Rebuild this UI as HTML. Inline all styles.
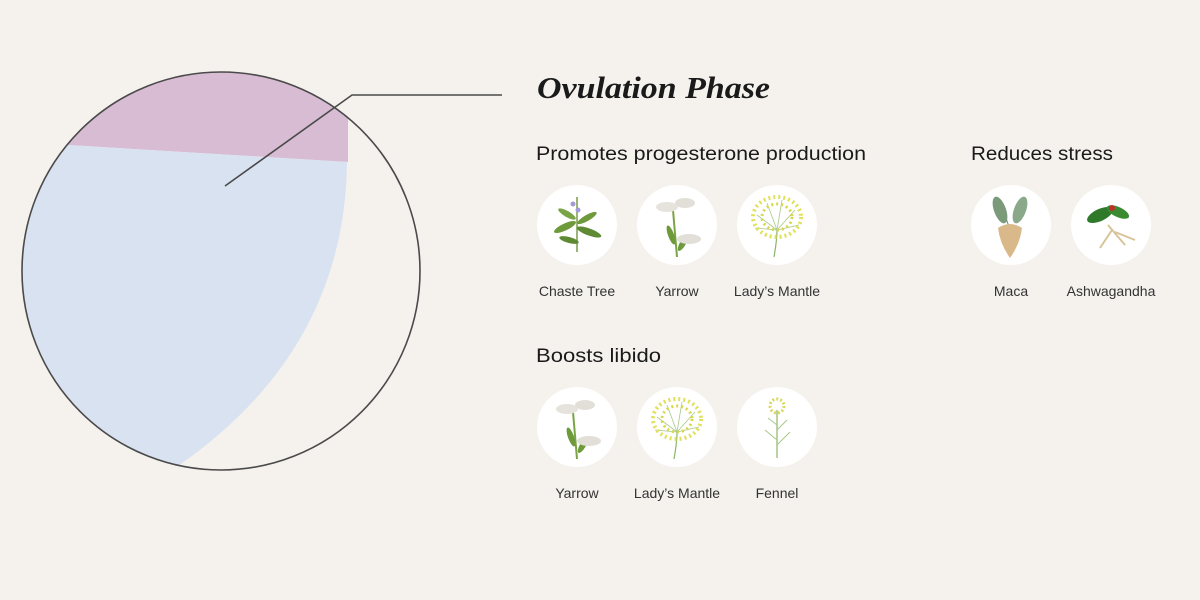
<!DOCTYPE html>
<html><head><meta charset="utf-8"><style>
html,body{margin:0;padding:0;background:#f5f2ee;}
svg{display:block}
text{font-family:"Liberation Sans",sans-serif;fill:#1a1a1a}
.h{font-size:19px;font-weight:500}
.l{font-size:14px;fill:#333}
</style></head><body>
<svg width="1200" height="600" viewBox="0 0 1200 600" xmlns="http://www.w3.org/2000/svg">
<defs>
<clipPath id="c"><circle cx="221" cy="271" r="199"/></clipPath>
<g id="leafy">
<path d="M0,30 L0,-25" stroke="#7a9a4a" stroke-width="1.5"/>
<ellipse cx="-12" cy="5" rx="12" ry="3.5" fill="#6e9a3c" transform="rotate(-25 -12 5)"/>
<ellipse cx="12" cy="10" rx="13" ry="3.5" fill="#5d8a33" transform="rotate(20 12 10)"/>
<ellipse cx="-10" cy="-8" rx="10" ry="3" fill="#7aa546" transform="rotate(30 -10 -8)"/>
<ellipse cx="10" cy="-4" rx="11" ry="3" fill="#6e9a3c" transform="rotate(-30 10 -4)"/>
<ellipse cx="-8" cy="18" rx="10" ry="3" fill="#5d8a33" transform="rotate(15 -8 18)"/>
</g>
<g id="yarrow">
<path d="M0,32 L-4,-15" stroke="#7aa546" stroke-width="2"/>
<ellipse cx="-6" cy="10" rx="3" ry="10" fill="#6e9a3c" transform="rotate(-20 -6 10)"/>
<ellipse cx="6" cy="18" rx="3" ry="9" fill="#6e9a3c" transform="rotate(30 6 18)"/>
<ellipse cx="-10" cy="-18" rx="11" ry="5" fill="#e6e3dc"/>
<ellipse cx="8" cy="-22" rx="10" ry="5" fill="#e2dfd8"/>
<ellipse cx="12" cy="14" rx="12" ry="5" fill="#e2dfd8"/>
</g>
<g id="mantle">
<path d="M-3,32 Q0,15 0,5" stroke="#8ab56a" stroke-width="1.2" fill="none"/>
<path d="M0,5 L-20,-10 M0,5 L-10,-22 M0,5 L5,-25 M0,5 L18,-15 M0,5 L22,0 M0,5 L-22,3" stroke="#a8c98a" stroke-width="0.8"/>
<ellipse cx="0" cy="-8" rx="24" ry="20" fill="none" stroke="#e0e05a" stroke-width="4" stroke-dasharray="2 3"/>
<ellipse cx="0" cy="-8" rx="15" ry="13" fill="none" stroke="#d6d84a" stroke-width="3" stroke-dasharray="2 3"/>
</g>
</defs>
<rect width="1200" height="600" fill="#f5f2ee"/>
<g clip-path="url(#c)">
<circle cx="221" cy="271" r="199" fill="#f5f2ee"/>
<path d="M0,0 L348,0 L348,162 L68,145 L0,144 Z" fill="#d8bcd3"/>
<path d="M0,144 L68,145 L347,162 Q345,350 178,466 L0,600 Z" fill="#d9e2f0"/>
</g>
<circle cx="221" cy="271" r="199" fill="none" stroke="#4a4a4a" stroke-width="1.6"/>
<polyline points="225,186 352,95 502,95" fill="none" stroke="#4a4a4a" stroke-width="1.6"/>
<text x="537" y="98" style="font-family:'Liberation Serif',serif;font-size:31px;font-weight:bold;font-style:italic" textLength="233" lengthAdjust="spacingAndGlyphs">Ovulation Phase</text>
<text class="h" x="536" y="160" textLength="330" lengthAdjust="spacingAndGlyphs">Promotes progesterone production</text>
<text class="h" x="971" y="160" textLength="142" lengthAdjust="spacingAndGlyphs">Reduces stress</text>
<text class="h" x="536" y="362" textLength="125" lengthAdjust="spacingAndGlyphs">Boosts libido</text>
<g fill="#ffffff">
<circle cx="577" cy="225" r="40"/><circle cx="677" cy="225" r="40"/><circle cx="777" cy="225" r="40"/>
<circle cx="1011" cy="225" r="40"/><circle cx="1111" cy="225" r="40"/>
<circle cx="577" cy="427" r="40"/><circle cx="677" cy="427" r="40"/><circle cx="777" cy="427" r="40"/>
</g>
<use href="#leafy" x="577" y="222"/>
<circle cx="573" cy="204" r="2.5" fill="#a59ad8"/><circle cx="578" cy="210" r="2.5" fill="#a59ad8"/>
<use href="#yarrow" x="677" y="225"/>
<use href="#mantle" x="777" y="225"/>
<path d="M1000,200 L1010,230" stroke="#6a8a6a" stroke-width="1"/>
<ellipse cx="1000" cy="210" rx="6" ry="14" fill="#7a9a7a" transform="rotate(-20 1000 210)"/>
<ellipse cx="1020" cy="210" rx="6" ry="14" fill="#8aa88a" transform="rotate(20 1020 210)"/>
<path d="M998,228 Q1010,220 1022,228 Q1020,244 1010,258 Q1000,244 998,228 Z" fill="#d9b98a"/>
<ellipse cx="1100" cy="215" rx="14" ry="6" fill="#2f7a2a" transform="rotate(-25 1100 215)"/>
<ellipse cx="1118" cy="212" rx="12" ry="5" fill="#3a8a32" transform="rotate(25 1118 212)"/>
<circle cx="1112" cy="208" r="3" fill="#c0302a"/>
<path d="M1108,225 L1125,245 M1112,230 L1100,248 M1115,232 L1135,240" stroke="#d8c49a" stroke-width="2"/>
<use href="#yarrow" x="577" y="427"/>
<use href="#mantle" x="677" y="427"/>
<path d="M777,458 L777,410" stroke="#8ab56a" stroke-width="1.2"/>
<circle cx="777" cy="406" r="7" fill="none" stroke="#d8d860" stroke-width="3" stroke-dasharray="2 2"/>
<path d="M777,440 L765,430 M777,445 L790,432 M777,425 L768,418 M777,430 L787,420" stroke="#a8c98a" stroke-width="1"/>
<g text-anchor="middle">
<text class="l" x="577" y="296">Chaste Tree</text>
<text class="l" x="677" y="296">Yarrow</text>
<text class="l" x="777" y="296">Lady’s Mantle</text>
<text class="l" x="1011" y="296">Maca</text>
<text class="l" x="1111" y="296">Ashwagandha</text>
<text class="l" x="577" y="498">Yarrow</text>
<text class="l" x="677" y="498">Lady’s Mantle</text>
<text class="l" x="777" y="498">Fennel</text>
</g>
</svg>
</body></html>
